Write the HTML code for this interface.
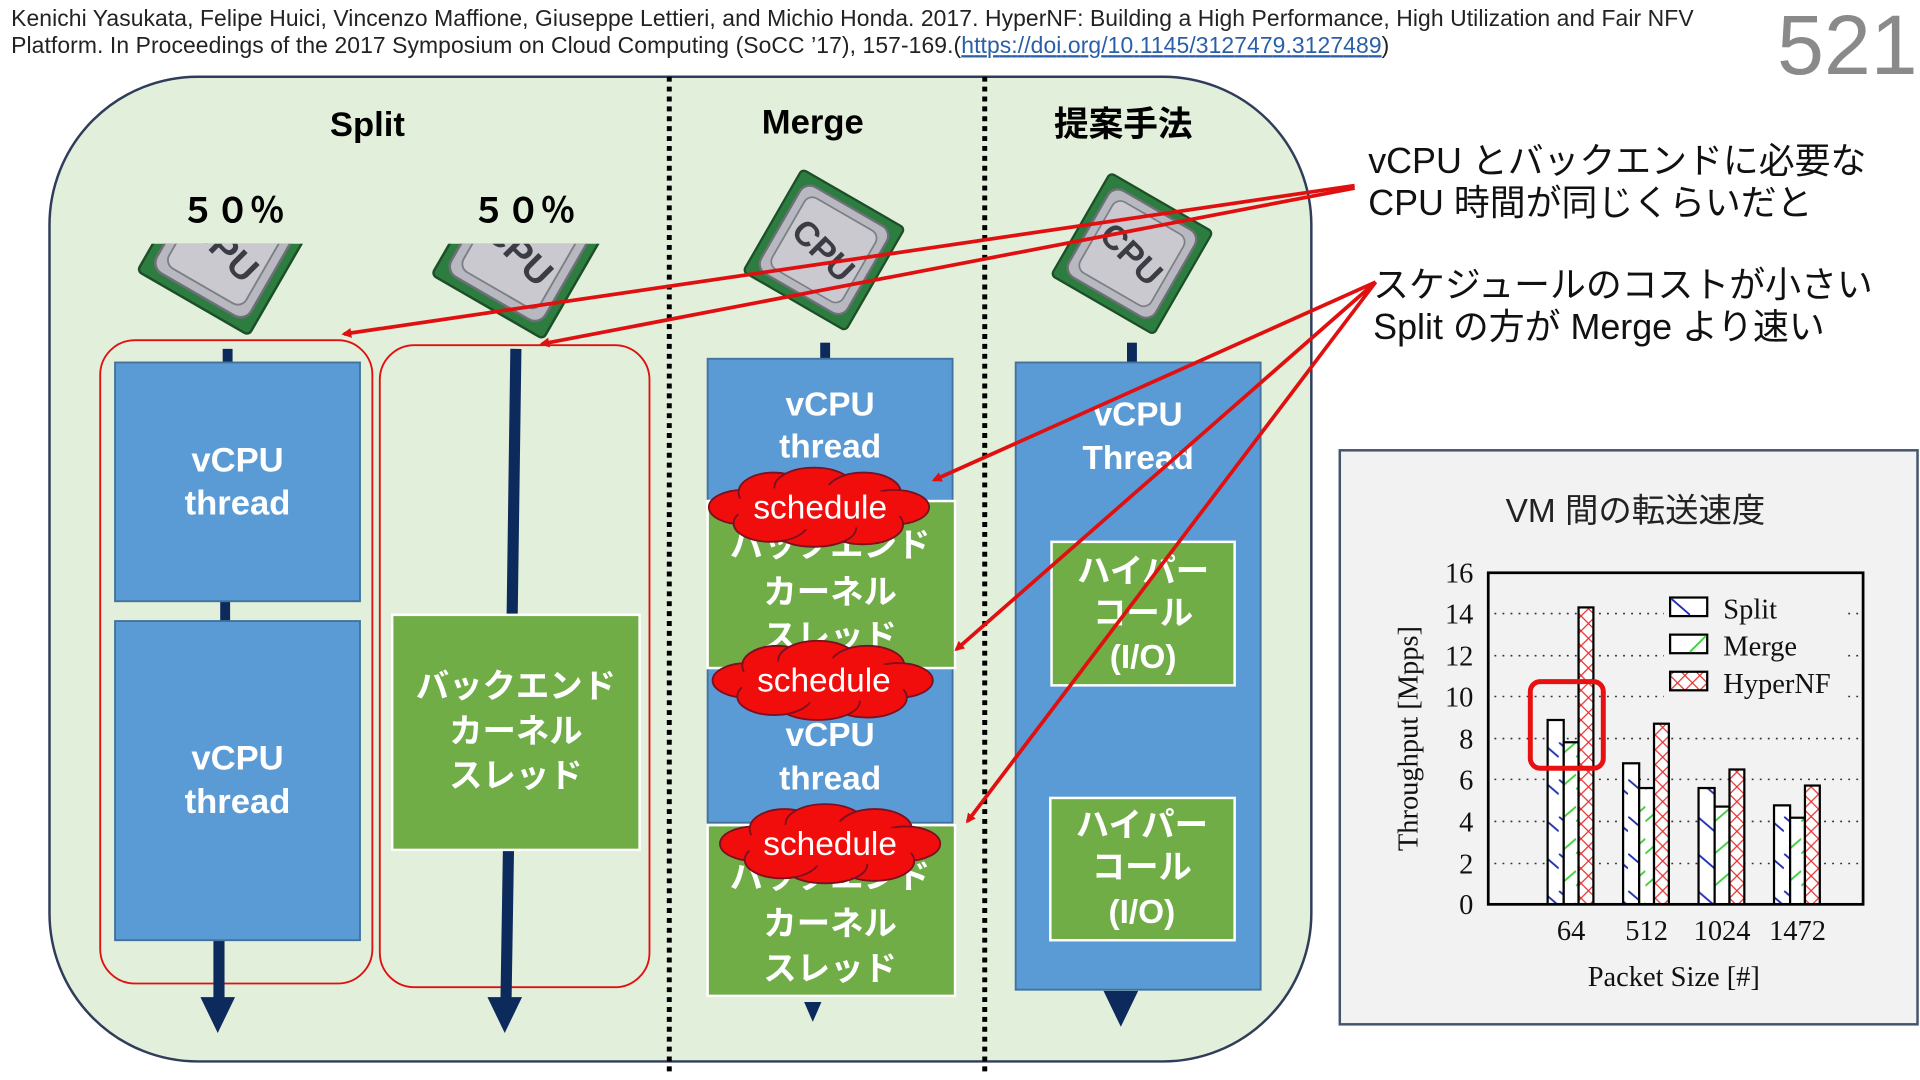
<!DOCTYPE html>
<html><head><meta charset="utf-8"><style>
html,body{margin:0;padding:0;background:#fff;}
svg{display:block;}
text{font-family:"Liberation Sans","Noto Sans CJK JP",sans-serif;}
.serif text{font-family:"Liberation Serif","Noto Serif CJK SC",serif;}
</style></head><body>
<svg width="1920" height="1080" viewBox="0 0 1552 873" preserveAspectRatio="none" xmlns="http://www.w3.org/2000/svg">
<defs>
<pattern id="pSplit" width="14" height="30" patternUnits="userSpaceOnUse"><rect width="14" height="30" fill="#fff"/><line x1="0" y1="0" x2="14" y2="12" stroke="#1f2fb0" stroke-width="1.5"/></pattern>
<pattern id="pMerge" width="14" height="26" patternUnits="userSpaceOnUse"><rect width="14" height="26" fill="#fff"/><line x1="0" y1="14" x2="14" y2="2" stroke="#3ecf3e" stroke-width="1.5"/></pattern>
<pattern id="pHyp" width="12" height="12" patternUnits="userSpaceOnUse"><rect width="12" height="12" fill="#fff"/><path d="M0 0L12 12M12 0L0 12" stroke="#e83030" stroke-width="1"/></pattern>
<marker id="ar" markerWidth="8" markerHeight="8" refX="6" refY="4" orient="auto" markerUnits="userSpaceOnUse"><path d="M0 0L8 4L0 8z" fill="#e01010"/></marker>
<clipPath id="cpuclip"><rect x="0" y="197" width="1552" height="700"/></clipPath>
<g id="cpu">
<rect x="-52" y="-52" width="104" height="104" rx="4" fill="#2e7d40" stroke="#1c4f28" stroke-width="2"/>
<rect x="-44" y="-44" width="88" height="88" rx="10" fill="#b8b8c0" stroke="#6f6f78" stroke-width="2"/>
<rect x="-36" y="-36" width="72" height="72" rx="8" fill="#c9c9cf" stroke="#7d7d86" stroke-width="1.5"/>
<text x="0" y="11" text-anchor="middle" font-size="30" font-weight="bold" fill="#3c3c44" transform="rotate(15)">CPU</text>
</g>
</defs>

<!-- header -->
<text x="9" y="21" font-size="18.5" fill="#222" textLength="1360">Kenichi Yasukata, Felipe Huici, Vincenzo Maffione, Giuseppe Lettieri, and Michio Honda. 2017. HyperNF: Building a High Performance, High Utilization and Fair NFV</text>
<text x="9" y="43" font-size="18.5" fill="#222" textLength="1114">Platform. In Proceedings of the 2017 Symposium on Cloud Computing (SoCC ’17), 157-169.(<tspan fill="#2a5fa8" text-decoration="underline">https://doi.org/10.1145/3127479.3127489</tspan>)</text>
<text x="1550" y="60" text-anchor="end" font-size="68" fill="#8a8a8a">521</text>

<!-- main panel -->
<rect x="40" y="62" width="1020" height="796" rx="120" fill="#e2efda" stroke="#2f3d5a" stroke-width="2"/>
<line x1="541" y1="62" x2="541" y2="868" stroke="#000" stroke-width="4" stroke-dasharray="4 4"/>
<line x1="796" y1="62" x2="796" y2="868" stroke="#000" stroke-width="4" stroke-dasharray="4 4"/>
<text x="297" y="110" text-anchor="middle" font-size="28" font-weight="bold">Split</text>
<text x="657" y="108" text-anchor="middle" font-size="28" font-weight="bold">Merge</text>
<text x="908" y="110" text-anchor="middle" font-size="28" font-weight="bold">提案手法</text>
<text x="188" y="180" text-anchor="middle" font-size="28" font-weight="bold">５０％</text>
<text x="423" y="180" text-anchor="middle" font-size="28" font-weight="bold">５０％</text>

<!-- CPUs -->
<g clip-path="url(#cpuclip)">
<use href="#cpu" transform="translate(182,200) rotate(30)"/>
<use href="#cpu" transform="translate(420,203) rotate(30)"/>
</g>
<use href="#cpu" transform="translate(666,202) rotate(30) scale(0.92)"/>
<use href="#cpu" transform="translate(915,205) rotate(30) scale(0.92)"/>

<!-- Split col 1 -->
<rect x="81" y="275" width="220" height="520" rx="28" fill="none" stroke="#e01010" stroke-width="1.5"/>
<line x1="184" y1="282" x2="184" y2="293" stroke="#0d2a5c" stroke-width="8"/>
<line x1="182" y1="486" x2="182" y2="502" stroke="#0d2a5c" stroke-width="8"/>
<line x1="177" y1="760" x2="177" y2="810" stroke="#0d2a5c" stroke-width="9"/>
<path d="M162 806L190 806L176 835z" fill="#0d2a5c"/>
<rect x="93" y="293" width="198" height="193" fill="#5b9bd5" stroke="#41719c" stroke-width="1.5"/>
<rect x="93" y="502" width="198" height="258" fill="#5b9bd5" stroke="#41719c" stroke-width="1.5"/>
<g fill="#fff" font-size="28" font-weight="bold" text-anchor="middle">
<text x="192" y="381">vCPU</text><text x="192" y="416">thread</text>
<text x="192" y="622">vCPU</text><text x="192" y="657">thread</text>
</g>

<!-- Split col 2 -->
<rect x="307" y="279" width="218" height="519" rx="28" fill="none" stroke="#e01010" stroke-width="1.5"/>
<line x1="417" y1="282" x2="414" y2="497" stroke="#0d2a5c" stroke-width="9"/>
<line x1="411" y1="687" x2="409" y2="810" stroke="#0d2a5c" stroke-width="9"/>
<path d="M394 806L422 806L408 835z" fill="#0d2a5c"/>
<rect x="317" y="497" width="200" height="190" fill="#70ad47" stroke="#fff" stroke-width="2"/>
<g fill="#fff" font-size="27" font-weight="bold" text-anchor="middle">
<text x="417" y="564">バックエンド</text><text x="417" y="600">カーネル</text><text x="417" y="636">スレッド</text>
</g>

<!-- Merge -->
<line x1="667" y1="277" x2="667" y2="291" stroke="#0d2a5c" stroke-width="8"/>
<rect x="572" y="290" width="198" height="375" fill="#5b9bd5" stroke="#41719c" stroke-width="1.5"/>
<rect x="572" y="405" width="200" height="135" fill="#70ad47" stroke="#fff" stroke-width="2"/>
<rect x="572" y="667" width="200" height="138" fill="#70ad47" stroke="#fff" stroke-width="2"/>
<path d="M650 810L664 810L657 826z" fill="#0d2a5c"/>
<g fill="#fff" font-size="27" font-weight="bold" text-anchor="middle">
<text x="671" y="336">vCPU</text><text x="671" y="370">thread</text>
<text x="671" y="450">バックエンド</text><text x="671" y="488">カーネル</text><text x="671" y="524">スレッド</text>
<text x="671" y="603">vCPU</text><text x="671" y="638">thread</text>
<text x="671" y="718">バックエンド</text><text x="671" y="756">カーネル</text><text x="671" y="792">スレッド</text>
</g>
<!-- clouds -->
<g fill="#f20d0d" stroke="#7a1020" stroke-width="1.5">
<g transform="translate(663,410)"><ellipse cx="-62" cy="0" rx="28" ry="14"/><ellipse cx="-38" cy="-12" rx="28" ry="16"/><ellipse cx="-5" cy="-16" rx="32" ry="16"/><ellipse cx="35" cy="-12" rx="30" ry="16"/><ellipse cx="60" cy="0" rx="28" ry="14"/><ellipse cx="35" cy="14" rx="32" ry="16"/><ellipse cx="-5" cy="17" rx="34" ry="15"/><ellipse cx="-40" cy="13" rx="30" ry="15"/><ellipse cx="0" cy="0" rx="70" ry="18" stroke="none"/></g>
<g transform="translate(666,550)"><ellipse cx="-62" cy="0" rx="28" ry="14"/><ellipse cx="-38" cy="-12" rx="28" ry="16"/><ellipse cx="-5" cy="-16" rx="32" ry="16"/><ellipse cx="35" cy="-12" rx="30" ry="16"/><ellipse cx="60" cy="0" rx="28" ry="14"/><ellipse cx="35" cy="14" rx="32" ry="16"/><ellipse cx="-5" cy="17" rx="34" ry="15"/><ellipse cx="-40" cy="13" rx="30" ry="15"/><ellipse cx="0" cy="0" rx="70" ry="18" stroke="none"/></g>
<g transform="translate(672,682)"><ellipse cx="-62" cy="0" rx="28" ry="14"/><ellipse cx="-38" cy="-12" rx="28" ry="16"/><ellipse cx="-5" cy="-16" rx="32" ry="16"/><ellipse cx="35" cy="-12" rx="30" ry="16"/><ellipse cx="60" cy="0" rx="28" ry="14"/><ellipse cx="35" cy="14" rx="32" ry="16"/><ellipse cx="-5" cy="17" rx="34" ry="15"/><ellipse cx="-40" cy="13" rx="30" ry="15"/><ellipse cx="0" cy="0" rx="70" ry="18" stroke="none"/></g>
</g>
<g fill="#fff" font-size="27" text-anchor="middle">
<text x="663" y="419">schedule</text><text x="666" y="559">schedule</text><text x="671" y="691">schedule</text>
</g>

<!-- Proposed -->
<line x1="915" y1="277" x2="915" y2="294" stroke="#0d2a5c" stroke-width="8"/>
<rect x="821" y="293" width="198" height="507" fill="#5b9bd5" stroke="#41719c" stroke-width="1.5"/>
<path d="M892 801L920 801L906 830z" fill="#0d2a5c"/>
<rect x="850" y="438" width="148" height="116" fill="#70ad47" stroke="#fff" stroke-width="2"/>
<rect x="849" y="645" width="149" height="115" fill="#70ad47" stroke="#fff" stroke-width="2"/>
<g fill="#fff" font-size="27" font-weight="bold" text-anchor="middle">
<text x="920" y="344">vCPU</text><text x="920" y="379">Thread</text>
<text x="924" y="471">ハイパー</text><text x="924" y="505">コール</text><text x="924" y="540">(I/O)</text>
<text x="923" y="676">ハイパー</text><text x="923" y="710">コール</text><text x="923" y="746">(I/O)</text>
</g>

<!-- right text -->
<g font-size="29" fill="#111">
<text x="1106" y="140">vCPU とバックエンドに必要な</text>
<text x="1106" y="174">CPU 時間が同じくらいだと</text>
<text x="1110" y="240">スケジュールのコストが小さい</text>
<text x="1110" y="274">Split の方が Merge より速い</text>
</g>

<!-- red arrows -->
<g stroke="#e01010" stroke-width="3" fill="none" marker-end="url(#ar)">
<line x1="1095" y1="150" x2="278" y2="270"/>
<line x1="1095" y1="152" x2="438" y2="278"/>
<line x1="1112" y1="228" x2="755" y2="388"/>
<line x1="1112" y1="228" x2="773" y2="525"/>
<line x1="1112" y1="228" x2="782" y2="664"/>
</g>

<!-- chart -->
<rect x="1083" y="364" width="467" height="464" fill="#f2f2f2" stroke="#44546a" stroke-width="2"/>
<text x="1322" y="422" text-anchor="middle" font-size="27" fill="#222">VM 間の転送速度</text>
<g stroke="#333" stroke-width="1.3" stroke-dasharray="1.5 5">
<line x1="1208" y1="698" x2="1503" y2="698"/><line x1="1208" y1="664" x2="1503" y2="664"/>
<line x1="1208" y1="630" x2="1503" y2="630"/><line x1="1208" y1="597" x2="1503" y2="597"/>
<line x1="1208" y1="563" x2="1503" y2="563"/><line x1="1208" y1="530" x2="1503" y2="530"/>
<line x1="1208" y1="496" x2="1503" y2="496"/>
</g>
<rect x="1345" y="478" width="148" height="88" fill="#f2f2f2"/>
<g stroke="#000" stroke-width="1.8">
<rect x="1251" y="582" width="13" height="149" fill="url(#pSplit)"/>
<rect x="1264" y="600" width="12" height="131" fill="url(#pMerge)"/>
<rect x="1276" y="491" width="12" height="240" fill="url(#pHyp)"/>
<rect x="1312" y="617" width="13" height="114" fill="url(#pSplit)"/>
<rect x="1325" y="637" width="12" height="94" fill="url(#pMerge)"/>
<rect x="1337" y="585" width="12" height="146" fill="url(#pHyp)"/>
<rect x="1373" y="637" width="13" height="94" fill="url(#pSplit)"/>
<rect x="1386" y="652" width="12" height="79" fill="url(#pMerge)"/>
<rect x="1398" y="622" width="12" height="109" fill="url(#pHyp)"/>
<rect x="1434" y="651" width="13" height="80" fill="url(#pSplit)"/>
<rect x="1447" y="661" width="12" height="70" fill="url(#pMerge)"/>
<rect x="1459" y="635" width="12" height="96" fill="url(#pHyp)"/>
<rect x="1350" y="483" width="30" height="15" fill="#fff"/>
<rect x="1350" y="513" width="30" height="15" fill="#fff"/>
<rect x="1350" y="543" width="30" height="15" fill="url(#pHyp)"/>
</g>
<line x1="1351" y1="484" x2="1366" y2="497" stroke="#1f2fb0" stroke-width="1.5"/>
<line x1="1366" y1="527" x2="1379" y2="514" stroke="#3ecf3e" stroke-width="1.5"/>
<rect x="1203" y="463" width="303" height="268" fill="none" stroke="#000" stroke-width="2.2"/>
<rect x="1237" y="551" width="59" height="70" rx="8" fill="none" stroke="#e81010" stroke-width="4"/>
<g class="serif" font-size="23" fill="#111">
<text x="1393" y="500">Split</text><text x="1393" y="530">Merge</text><text x="1393" y="560">HyperNF</text>
<g text-anchor="end">
<text x="1191" y="739">0</text><text x="1191" y="706">2</text><text x="1191" y="672">4</text><text x="1191" y="638">6</text><text x="1191" y="605">8</text><text x="1191" y="571">10</text><text x="1191" y="538">12</text><text x="1191" y="504">14</text><text x="1191" y="471">16</text>
</g>
<g text-anchor="middle">
<text x="1270" y="760">64</text><text x="1331" y="760">512</text><text x="1392" y="760">1024</text><text x="1453" y="760">1472</text>
<text x="1353" y="797">Packet Size [#]</text>
<text transform="translate(1146,597) rotate(-90)" x="0" y="0">Throughput [Mpps]</text>
</g>
</g>
</svg>
</body></html>
